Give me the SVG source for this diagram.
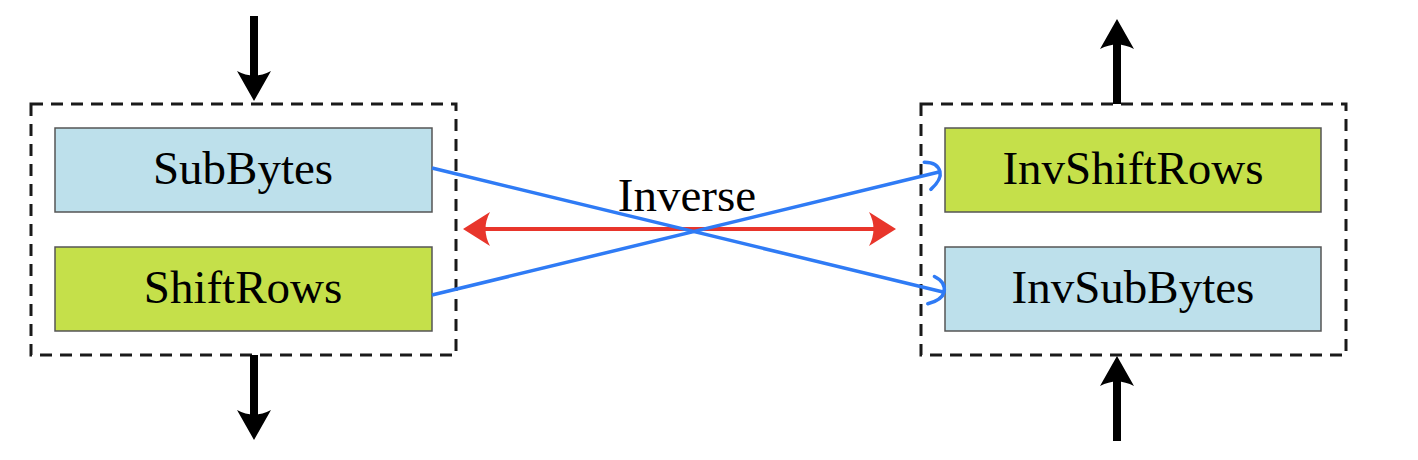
<svg xmlns="http://www.w3.org/2000/svg" width="1418" height="460" viewBox="0 0 1418 460">
<style>
.grp{fill:none;stroke:#1a1a1a;stroke-width:3;stroke-dasharray:12 8}
.blue{fill:#bde0eb;stroke:#555;stroke-width:1.5}
.green{fill:#c5e04a;stroke:#555;stroke-width:1.5}
.lbl{font-family:"Liberation Serif","Times New Roman",serif;font-size:47px;fill:#000;text-anchor:middle}
.io{stroke:#000;stroke-width:8;fill:none}
.head{fill:#000}
.rhead{fill:#e8352b}
.cross{stroke:#2f7bf5;stroke-width:3.5;fill:none}
.inv{stroke:#e8352b;stroke-width:4;fill:none}
</style>
<defs>
<marker id="hook" markerUnits="userSpaceOnUse" viewBox="-16 -17 22 34" refX="0" refY="0" markerWidth="22" markerHeight="34" orient="auto">
<path d="M-12,-13 Q1,-10 1,0 Q1,8 -12,15" fill="none" stroke="#2f7bf5" stroke-width="3.5" stroke-linecap="round"/>
</marker>
</defs>
<g id="enc-group">
<rect class="grp" x="31" y="104" width="425" height="251"/>
</g>
<g id="SubBytes">
<rect class="blue" x="55" y="128" width="377" height="84"/>
<text class="lbl" x="243" y="184">SubBytes</text>
</g>
<g id="ShiftRows">
<rect class="green" x="55" y="247" width="377" height="84"/>
<text class="lbl" x="243" y="303">ShiftRows</text>
</g>
<g id="dec-group">
<rect class="grp" x="921" y="104" width="425" height="251"/>
</g>
<g id="InvShiftRows">
<rect class="green" x="945" y="128" width="376" height="84"/>
<text class="lbl" x="1133" y="184">InvShiftRows</text>
</g>
<g id="InvSubBytes">
<rect class="blue" x="945" y="247" width="376" height="84"/>
<text class="lbl" x="1133" y="303">InvSubBytes</text>
</g>
<g id="label-inverse">
<text class="lbl" x="687" y="211">Inverse</text>
</g>
<g id="connectors">
<line class="io" x1="254" y1="16" x2="254" y2="84"/>
<path class="head" d="M254,101 L237,71 Q254,80 271,71 Z"/>
<line class="io" x1="254" y1="355" x2="254" y2="424"/>
<path class="head" d="M254,440 L237,410 Q254,419 271,410 Z"/>
<line class="io" x1="1117" y1="104" x2="1117" y2="36"/>
<path class="head" d="M1117,19 L1100,49 Q1117,40 1134,49 Z"/>
<line class="io" x1="1117" y1="441" x2="1117" y2="373"/>
<path class="head" d="M1117,356 L1100,386 Q1117,377 1134,386 Z"/>
<line class="inv" x1="480" y1="229" x2="879" y2="229"/>
<path class="rhead" d="M463,229 L490,212 Q481,229 490,246 Z"/>
<path class="rhead" d="M896,229 L869,212 Q878,229 869,246 Z"/>
<line class="cross" x1="432" y1="168" x2="943" y2="292" marker-end="url(#hook)"/>
<line class="cross" x1="432" y1="295" x2="939" y2="172" marker-end="url(#hook)"/>
</g>
</svg>
